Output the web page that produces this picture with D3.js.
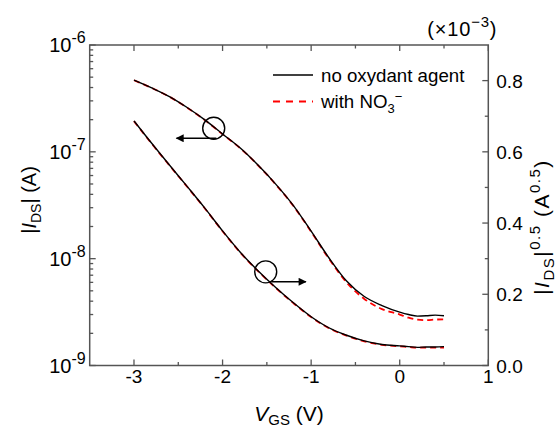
<!DOCTYPE html>
<html><head><meta charset="utf-8">
<script src="https://cdn.jsdelivr.net/npm/d3@7"></script>
<style>body{margin:0;background:#fff} text{font-family:"Liberation Sans",Arial,sans-serif;fill:#000}</style>
</head><body><svg id="c" width="560" height="427"></svg>
<script>
// ---- data ----
const vgs = [-3.0,-2.8,-2.6,-2.4,-2.2,-2.0,-1.8,-1.6,-1.4,-1.2,-1.0,-0.8,-0.6,-0.4,-0.2,0.0,0.1,0.2,0.3,0.4,0.5];
const idsNoOx = [4.70e-7,3.97e-7,3.29e-7,2.60e-7,1.99e-7,1.47e-7,1.085e-7,7.52e-8,4.99e-8,3.14e-8,1.81e-8,1.02e-8,6.17e-9,4.42e-9,3.64e-9,3.16e-9,3.00e-9,2.90e-9,2.92e-9,2.96e-9,2.92e-9];
const idsNO3 = [4.68e-7,3.96e-7,3.28e-7,2.59e-7,1.98e-7,1.46e-7,1.08e-7,7.48e-8,4.95e-8,3.11e-8,1.79e-8,1.00e-8,6.00e-9,4.20e-9,3.37e-9,3.00e-9,2.80e-9,2.69e-9,2.66e-9,2.69e-9,2.70e-9];
const sqrtNoOx = [0.687,0.624,0.563,0.503,0.442,0.378,0.318,0.266,0.219,0.176,0.137,0.106,0.085,0.069,0.059,0.055,0.053,0.051,0.052,0.052,0.053];
const sqrtNO3 = [0.686,0.623,0.562,0.502,0.441,0.377,0.317,0.265,0.218,0.175,0.136,0.105,0.084,0.068,0.058,0.054,0.052,0.050,0.050,0.050,0.050];
const xTicks = [-3,-2,-1,0,1];
const xMinor = [-2.5,-1.5,-0.5,0.5];
const logTicks = [1e-9,1e-8,1e-7,1e-6];
const logExp = ["-9","-8","-7","-6"];
const sqrtTicks = [0,0.2,0.4,0.6,0.8];
const sqrtMinor = [0.1,0.3,0.5,0.7];
const legendLabels = ["no oxydant agent","with NO"];
// annotations (data coordinates)
const circleLog = {v:-2.10, i:1.66e-7, v0:-2.07, v1:-2.52, ia:1.34e-7};
const circleSqrt = {v:-1.513, s:0.263, v0:-1.45, v1:-1.06, sa:0.235};

const L=89.7, R=488.3, T=45, B=365.5;
const svg = d3.select("#c");
const x = d3.scaleLinear().domain([-3.5,1]).range([L,R]);
const yL = d3.scaleLog().domain([1e-9,1e-6]).range([B,T]);
const yR = d3.scaleLinear().domain([0,0.9]).range([B,T]);
const axCol = "#555";

// frame
svg.append("rect").attr("x",L).attr("y",T).attr("width",R-L).attr("height",B-T)
  .attr("fill","none").attr("stroke",axCol).attr("stroke-width",1.5);

// ticks
const tk = svg.append("g").attr("stroke",axCol).attr("stroke-width",1.3);
xTicks.forEach(v=>{
  tk.append("line").attr("x1",x(v)).attr("x2",x(v)).attr("y1",B).attr("y2",B-6);
  tk.append("line").attr("x1",x(v)).attr("x2",x(v)).attr("y1",T).attr("y2",T+6);
});
xMinor.forEach(v=>{
  tk.append("line").attr("x1",x(v)).attr("x2",x(v)).attr("y1",B).attr("y2",B-3.5);
  tk.append("line").attr("x1",x(v)).attr("x2",x(v)).attr("y1",T).attr("y2",T+3.5);
});
logTicks.forEach(v=>tk.append("line").attr("x1",L).attr("x2",L+6).attr("y1",yL(v)).attr("y2",yL(v)));
[1e-9,1e-8,1e-7].forEach(d=>{ for(let k=2;k<=9;k++){ const v=d*k;
  tk.append("line").attr("x1",L).attr("x2",L+3.5).attr("y1",yL(v)).attr("y2",yL(v)); }});
sqrtTicks.forEach(v=>tk.append("line").attr("x1",R).attr("x2",R-6).attr("y1",yR(v)).attr("y2",yR(v)));
sqrtMinor.forEach(v=>tk.append("line").attr("x1",R).attr("x2",R-3.5).attr("y1",yR(v)).attr("y2",yR(v)));

// tick labels
const fs = 19;
xTicks.forEach(v=>{
  svg.append("text").attr("x",x(v)).attr("y",B+17).attr("text-anchor","middle")
    .attr("font-size",fs).text(v<0?"-"+Math.abs(v):String(v));
});
logTicks.forEach((v,i)=>{
  const t = svg.append("text").attr("x",L-4).attr("y",yL(v)+7).attr("text-anchor","end").attr("font-size",20);
  t.append("tspan").text("10");
  t.append("tspan").attr("font-size",16).attr("dy",-9).text(logExp[i]);
});
sqrtTicks.forEach(v=>{
  svg.append("text").attr("x",R+8).attr("y",yR(v)+7).attr("font-size",fs).text(v.toFixed(1));
});
{
  const t = svg.append("text").attr("x",R+9).attr("y",36).attr("text-anchor","end").attr("font-size",20).attr("letter-spacing",0.8);
  t.append("tspan").text("(\u00d710");
  t.append("tspan").attr("font-size",15).attr("dy",-9).text("\u22123");
  t.append("tspan").attr("dy",9).text(")");
}

// axis titles
{
  const t = svg.append("text").attr("transform",`translate(36,200) rotate(-90)`)
    .attr("text-anchor","middle").attr("font-size",20);
  t.append("tspan").text("|");
  t.append("tspan").attr("font-style","italic").text("I");
  t.append("tspan").attr("font-size",14).attr("dy",5).text("DS");
  t.append("tspan").attr("dy",-5).text("| (A)");
}
{
  const t = svg.append("text").attr("transform",`translate(549,227) rotate(-90)`)
    .attr("text-anchor","middle").attr("font-size",21).attr("letter-spacing",1.5);
  t.append("tspan").text("|");
  t.append("tspan").attr("font-style","italic").text("I");
  t.append("tspan").attr("font-size",15).attr("dy",5).text("DS");
  t.append("tspan").attr("dy",-5).text("|");
  t.append("tspan").attr("font-size",15).attr("dy",-9).text("0.5");
  t.append("tspan").attr("dy",9).text(" (A");
  t.append("tspan").attr("font-size",15).attr("dy",-9).text("0.5");
  t.append("tspan").attr("dy",9).text(")");
}
{
  const t = svg.append("text").attr("x",x(-1.25)).attr("y",421).attr("text-anchor","middle").attr("font-size",21);
  t.append("tspan").attr("font-style","italic").text("V");
  t.append("tspan").attr("font-size",15).attr("dy",4).text("GS");
  t.append("tspan").attr("dy",-4).text(" (V)");
}

// curves
svg.append("clipPath").attr("id","pc").append("rect").attr("x",L).attr("y",T).attr("width",R-L).attr("height",B-T);
const g = svg.append("g").attr("clip-path","url(#pc)");
const lineLog = d3.line().x((d,i)=>x(vgs[i])).y(d=>yL(d)).curve(d3.curveMonotoneX);
const lineSq = d3.line().x((d,i)=>x(vgs[i])).y(d=>yR(d)).curve(d3.curveMonotoneX);
const dash = "6,4";
g.append("path").attr("d",lineLog(idsNO3)).attr("fill","none").attr("stroke","#ff0000").attr("stroke-width",1.8).attr("stroke-dasharray",dash);
g.append("path").attr("d",lineSq(sqrtNO3)).attr("fill","none").attr("stroke","#ff0000").attr("stroke-width",1.8).attr("stroke-dasharray",dash);
g.append("path").attr("d",lineLog(idsNoOx)).attr("fill","none").attr("stroke","#000").attr("stroke-width",1.4);
g.append("path").attr("d",lineSq(sqrtNoOx)).attr("fill","none").attr("stroke","#000").attr("stroke-width",1.4);

// annotations
svg.append("defs").append("marker").attr("id","ah").attr("viewBox","0 0 10 10").attr("refX",9).attr("refY",5)
  .attr("markerWidth",10).attr("markerHeight",8).attr("markerUnits","userSpaceOnUse").attr("orient","auto")
  .append("path").attr("d","M0,0 L10,5 L0,10 Z").attr("fill","#000");
svg.append("circle").attr("cx",x(circleLog.v)).attr("cy",yL(circleLog.i)).attr("r",11).attr("fill","none").attr("stroke","#000").attr("stroke-width",1.4);
svg.append("line").attr("x1",x(circleLog.v0)).attr("x2",x(circleLog.v1)).attr("y1",yL(circleLog.ia)).attr("y2",yL(circleLog.ia))
  .attr("stroke","#000").attr("stroke-width",1.6).attr("marker-end","url(#ah)");
svg.append("circle").attr("cx",x(circleSqrt.v)).attr("cy",yR(circleSqrt.s)).attr("r",11).attr("fill","none").attr("stroke","#000").attr("stroke-width",1.4);
svg.append("line").attr("x1",x(circleSqrt.v0)).attr("x2",x(circleSqrt.v1)).attr("y1",yR(circleSqrt.sa)).attr("y2",yR(circleSqrt.sa))
  .attr("stroke","#000").attr("stroke-width",1.6).attr("marker-end","url(#ah)");

// legend
const lg = svg.append("g");
lg.append("line").attr("x1",273).attr("x2",313).attr("y1",75).attr("y2",75).attr("stroke","#000").attr("stroke-width",1.6);
lg.append("line").attr("x1",273).attr("x2",313).attr("y1",101.5).attr("y2",101.5).attr("stroke","#ff0000").attr("stroke-width",1.8).attr("stroke-dasharray","7,6");
lg.append("text").attr("x",321).attr("y",81.5).attr("font-size",18.7).text(legendLabels[0]);
{
  const t = lg.append("text").attr("x",321).attr("y",108).attr("font-size",18.7);
  t.append("tspan").text(legendLabels[1]);
  t.append("tspan").attr("font-size",13).attr("dy",5).text("3");
  t.append("tspan").attr("font-size",13).attr("dy",-12).text("\u2212");
}
</script></body></html>
